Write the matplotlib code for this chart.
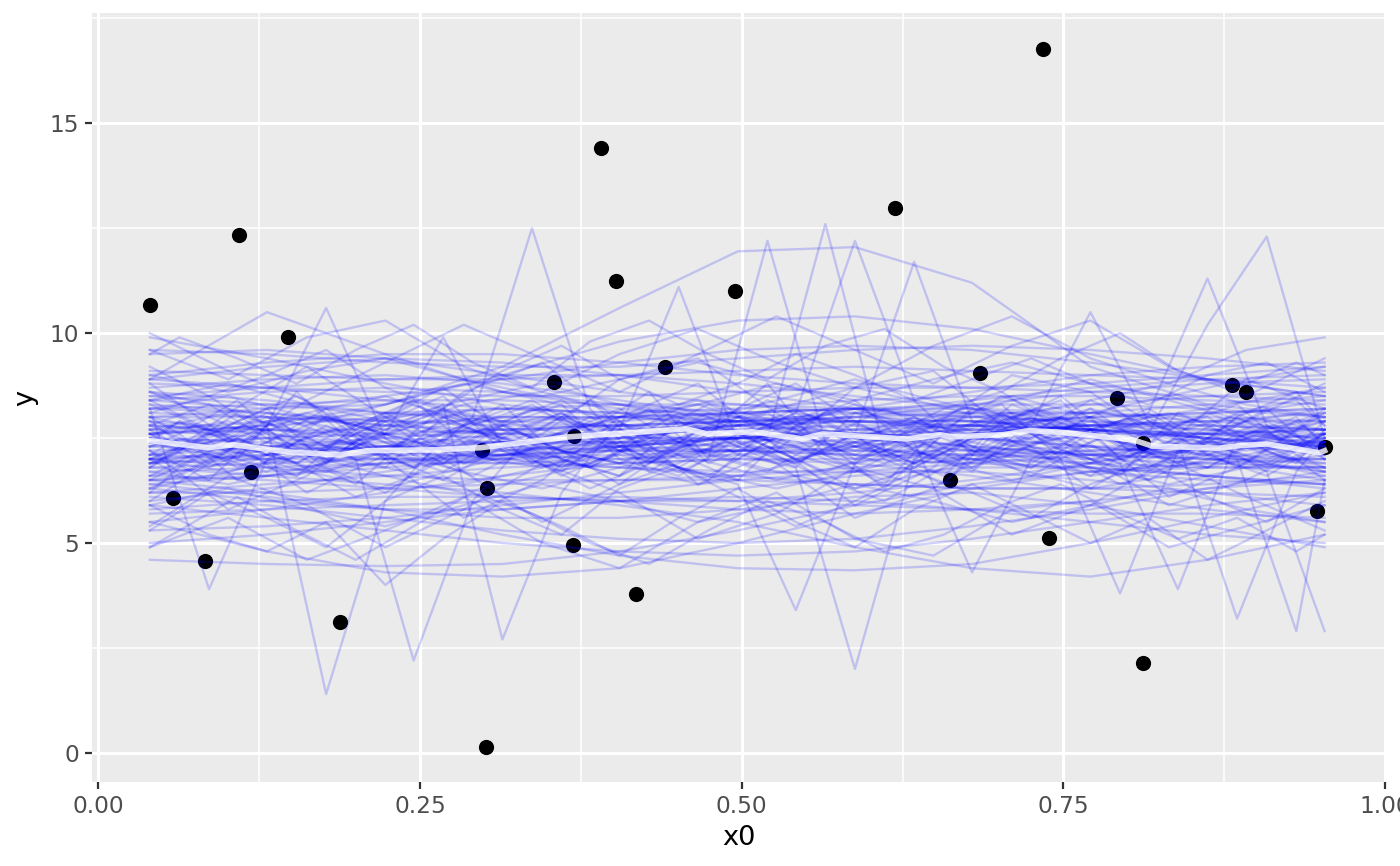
import numpy as np
import matplotlib
matplotlib.use("Agg")
import matplotlib.pyplot as plt
from matplotlib.ticker import MultipleLocator

# observed points
pts_x = [0.040, 0.058, 0.083, 0.109, 0.119, 0.147, 0.188, 0.298, 0.302, 0.301,
         0.354, 0.369, 0.370, 0.391, 0.402, 0.418, 0.440, 0.495, 0.619, 0.662,
         0.685, 0.734, 0.739, 0.792, 0.812, 0.812, 0.881, 0.892, 0.947, 0.953]
pts_y = [10.68, 6.08, 4.58, 12.34, 6.70, 9.91, 3.13, 7.22, 6.32, 0.13,
         8.84, 4.96, 7.56, 14.41, 11.25, 3.79, 9.20, 11.01, 12.98, 6.51,
         9.05, 16.77, 5.13, 8.46, 7.39, 2.13, 8.77, 8.60, 5.77, 7.29]

# posterior mean line
mean_x = [0.040, 0.085, 0.105, 0.147, 0.188, 0.209, 0.260, 0.297, 0.366, 0.457,
          0.473, 0.509, 0.547, 0.563, 0.628, 0.654, 0.664, 0.703, 0.724, 0.747,
          0.804, 0.819, 0.871, 0.887, 0.908, 0.928, 0.949, 0.953]
mean_y = [7.44, 7.27, 7.34, 7.17, 7.10, 7.20, 7.22, 7.27, 7.53, 7.72,
          7.60, 7.65, 7.48, 7.60, 7.48, 7.58, 7.53, 7.58, 7.68, 7.64,
          7.46, 7.31, 7.26, 7.32, 7.36, 7.26, 7.15, 7.20]

# draws: smooth ones on a coarse grid
x_smooth = [0.040, 0.131, 0.223, 0.314, 0.405, 0.497, 0.588, 0.679, 0.771, 0.862, 0.953]
smooth_draws = [
    [7.4, 7.5, 7.6, 7.7, 7.8, 7.9, 7.9, 7.8, 7.7, 7.6, 7.5],
    [8.0, 8.0, 7.9, 7.9, 8.0, 8.1, 8.2, 8.2, 8.1, 8.0, 7.9],
    [6.8, 6.9, 7.0, 7.0, 7.1, 7.2, 7.2, 7.1, 7.0, 6.9, 6.8],
    [8.8, 8.7, 8.6, 8.5, 8.5, 8.6, 8.7, 8.7, 8.6, 8.5, 8.4],
    [6.2, 6.2, 6.3, 6.4, 6.5, 6.5, 6.4, 6.3, 6.3, 6.2, 6.1],
    [7.8, 7.6, 7.3, 7.1, 7.0, 7.1, 7.3, 7.6, 7.8, 7.9, 7.9],
    [7.1, 7.3, 7.5, 7.7, 7.8, 7.7, 7.5, 7.3, 7.1, 7.0, 6.9],
    [9.1, 9.0, 8.9, 8.9, 9.0, 9.1, 9.2, 9.1, 9.0, 8.9, 8.7],
    [5.7, 5.8, 5.9, 6.0, 6.1, 6.0, 5.9, 5.8, 5.7, 5.7, 5.6],
    [7.6, 7.8, 8.0, 8.2, 8.3, 8.3, 8.2, 8.0, 7.9, 7.8, 7.7],
    [6.5, 6.6, 6.8, 7.0, 7.3, 7.5, 7.6, 7.5, 7.3, 7.0, 6.7],
    [8.3, 8.1, 7.8, 7.6, 7.5, 7.5, 7.6, 7.8, 8.0, 8.1, 8.2],
    [4.6, 4.5, 4.45, 4.5, 4.8, 5.3, 5.9, 6.4, 6.7, 6.8, 6.8],
    [9.9, 9.4, 8.8, 8.3, 8.0, 7.9, 8.0, 8.3, 8.6, 8.8, 8.9],
    [7.3, 7.2, 7.1, 7.1, 7.2, 7.4, 7.6, 7.7, 7.7, 7.6, 7.4],
    [6.0, 6.3, 6.7, 7.1, 7.5, 7.8, 7.9, 7.8, 7.5, 7.1, 6.7],
    [8.5, 8.7, 8.9, 9.0, 9.0, 8.8, 8.5, 8.2, 7.9, 7.7, 7.6],
    [7.0, 6.8, 6.6, 6.5, 6.5, 6.6, 6.8, 7.0, 7.2, 7.3, 7.3],
    [5.3, 5.4, 5.6, 5.9, 6.2, 6.5, 6.7, 6.7, 6.5, 6.2, 5.9],
    [8.2, 8.3, 8.4, 8.4, 8.3, 8.1, 7.9, 7.7, 7.6, 7.6, 7.7],
    [6.6, 6.5, 6.3, 6.1, 6.0, 6.0, 6.2, 6.5, 6.9, 7.3, 7.6],
    [7.9, 7.7, 7.5, 7.4, 7.4, 7.5, 7.7, 8.0, 8.3, 8.5, 8.6],
    [9.5, 9.6, 9.4, 9.0, 8.6, 8.3, 8.1, 8.0, 8.1, 8.3, 8.5],
    [6.9, 7.0, 7.2, 7.4, 7.5, 7.5, 7.3, 7.0, 6.7, 6.5, 6.4],
    [5.9, 5.6, 5.3, 5.0, 4.8, 4.7, 4.8, 5.1, 5.5, 5.9, 6.2],
    [7.7, 7.9, 8.1, 8.2, 8.1, 7.9, 7.6, 7.3, 7.1, 7.0, 7.0],
    [8.6, 8.4, 8.1, 7.9, 7.8, 7.9, 8.1, 8.4, 8.7, 8.9, 9.0],
    [7.2, 7.3, 7.4, 7.4, 7.3, 7.2, 7.1, 7.1, 7.2, 7.3, 7.4],
    [6.4, 6.6, 6.9, 7.2, 7.4, 7.5, 7.4, 7.2, 6.9, 6.6, 6.4],
    [8.0, 8.2, 8.5, 8.9, 9.3, 9.6, 9.7, 9.6, 9.3, 8.9, 8.5],
    [7.5, 7.4, 7.2, 7.0, 6.8, 6.7, 6.7, 6.9, 7.1, 7.4, 7.6],
    [6.1, 5.9, 5.6, 5.3, 5.1, 5.0, 5.1, 5.4, 5.8, 6.3, 6.7],
    [8.4, 8.6, 8.7, 8.6, 8.3, 7.9, 7.5, 7.2, 7.1, 7.2, 7.4],
    [7.0, 7.1, 7.3, 7.6, 7.9, 8.1, 8.2, 8.1, 7.8, 7.5, 7.2],
    [8.9, 9.2, 9.4, 9.3, 9.0, 8.6, 8.2, 7.9, 7.8, 7.9, 8.1],
    [6.7, 6.8, 6.9, 6.9, 6.8, 6.6, 6.4, 6.3, 6.3, 6.4, 6.6],
    [5.5, 5.8, 6.2, 6.6, 6.9, 7.0, 6.9, 6.6, 6.2, 5.8, 5.5],
    [8.4, 8.2, 8.3, 9.2, 10.6, 11.95, 12.05, 11.2, 9.2, 8.3, 8.0],
    [7.6, 7.8, 8.3, 9.0, 9.8, 10.3, 10.4, 10.1, 9.5, 8.9, 8.5],
    [6.5, 6.2, 5.8, 5.2, 4.7, 4.4, 4.35, 4.5, 5.0, 5.6, 6.2],
    [6.8, 6.6, 6.4, 6.2, 5.9, 5.5, 4.9, 4.4, 4.2, 4.6, 5.2],
    [5.5, 4.8, 4.3, 4.2, 4.4, 5.0, 5.7, 6.3, 6.7, 6.9, 7.0],
    [8.9, 10.5, 9.5, 8.6, 8.2, 8.0, 7.9, 7.9, 8.0, 8.1, 8.2],
    [7.4, 7.3, 7.2, 7.3, 7.5, 7.8, 8.2, 8.6, 9.0, 9.2, 9.3],
    [6.4, 6.1, 5.8, 5.6, 5.6, 5.8, 6.1, 6.2, 5.9, 5.4, 4.9],
    [8.7, 8.9, 9.0, 8.8, 8.4, 8.0, 7.7, 7.6, 7.8, 8.2, 8.7],
    [7.6, 7.7, 7.7, 7.6, 7.6, 7.7, 7.8, 7.8, 7.7, 7.5, 7.3],
    [7.1, 7.0, 7.0, 7.1, 7.3, 7.5, 7.6, 7.5, 7.3, 7.1, 7.0],
    [8.1, 8.0, 7.8, 7.7, 7.7, 7.8, 8.0, 8.1, 8.1, 7.9, 7.7],
    [6.9, 7.1, 7.3, 7.4, 7.4, 7.3, 7.2, 7.2, 7.3, 7.3, 7.2],
    [7.8, 7.7, 7.6, 7.5, 7.6, 7.8, 7.9, 7.9, 7.7, 7.4, 7.1],
    [7.3, 7.5, 7.8, 8.0, 8.0, 7.8, 7.6, 7.5, 7.5, 7.6, 7.7],
    [6.5, 6.7, 6.9, 7.1, 7.2, 7.2, 7.1, 7.0, 6.9, 6.8, 6.8],
    [8.5, 8.3, 8.1, 8.0, 8.0, 8.1, 8.2, 8.3, 8.3, 8.2, 8.0],
    [7.0, 7.2, 7.3, 7.3, 7.2, 7.2, 7.4, 7.6, 7.8, 7.8, 7.7],
    [7.7, 7.5, 7.3, 7.2, 7.3, 7.5, 7.7, 7.8, 7.7, 7.5, 7.3],
    [6.2, 6.4, 6.6, 6.8, 6.9, 7.0, 7.0, 6.9, 6.8, 6.6, 6.4],
    [8.9, 8.7, 8.4, 8.2, 8.1, 8.2, 8.4, 8.5, 8.5, 8.4, 8.3],
    [7.4, 7.2, 7.0, 6.9, 7.0, 7.2, 7.5, 7.7, 7.8, 7.7, 7.5],
    [8.2, 8.1, 7.9, 7.8, 7.8, 7.9, 8.0, 7.9, 7.7, 7.5, 7.4],
    [5.0, 5.2, 5.5, 5.8, 6.0, 6.1, 6.0, 5.8, 5.5, 5.2, 5.0],
    [9.6, 9.5, 9.3, 9.2, 9.2, 9.4, 9.6, 9.7, 9.6, 9.4, 9.1],
    [5.8, 6.0, 6.1, 6.1, 6.0, 5.8, 5.7, 5.8, 6.0, 6.3, 6.5],
    [9.0, 9.3, 9.5, 9.5, 9.3, 9.0, 8.8, 8.7, 8.8, 9.0, 9.2],
    [6.3, 6.0, 5.8, 5.8, 6.0, 6.3, 6.6, 6.8, 6.8, 6.6, 6.3],
]

# medium wiggle draws
x_grid_c = [0.040, 0.101, 0.162, 0.223, 0.284, 0.345, 0.405, 0.466, 0.527, 0.588,
            0.649, 0.710, 0.771, 0.832, 0.892, 0.953]
medium_draws = [
    [7.6, 7.9, 7.4, 7.1, 7.6, 8.0, 7.7, 7.2, 7.5, 8.1, 7.8, 7.3, 7.6, 8.0, 7.5, 7.2],
    [7.0, 6.7, 7.2, 7.6, 7.1, 6.8, 7.3, 7.8, 7.4, 6.9, 7.2, 7.7, 7.3, 6.8, 7.1, 7.5],
    [8.2, 8.5, 8.0, 7.7, 8.3, 8.6, 8.1, 7.8, 8.2, 8.7, 8.3, 7.8, 8.1, 8.5, 8.0, 7.7],
    [6.6, 6.9, 7.3, 6.8, 6.4, 6.8, 7.4, 7.0, 6.5, 6.9, 7.4, 7.1, 6.6, 6.9, 7.3, 6.8],
    [7.9, 7.5, 7.1, 7.6, 8.1, 7.7, 7.2, 7.6, 8.2, 7.8, 7.3, 7.7, 8.2, 7.7, 7.2, 7.6],
    [7.3, 7.7, 8.1, 7.6, 7.1, 7.5, 8.0, 8.3, 7.7, 7.2, 7.6, 8.1, 7.6, 7.1, 7.5, 7.9],
    [6.9, 7.2, 6.7, 6.3, 6.8, 7.3, 6.9, 6.4, 6.8, 7.4, 7.0, 6.5, 6.9, 7.3, 6.8, 6.5],
    [8.6, 8.2, 7.8, 8.3, 8.8, 8.4, 7.9, 8.3, 8.8, 8.3, 7.9, 8.4, 8.9, 8.4, 7.9, 8.2],
    [7.4, 7.0, 7.5, 8.0, 7.5, 7.0, 7.4, 7.9, 7.4, 7.0, 7.5, 8.0, 7.6, 7.1, 7.6, 8.0],
    [6.3, 6.7, 7.1, 6.6, 6.2, 6.6, 7.1, 6.7, 6.3, 6.7, 7.2, 6.8, 6.3, 6.6, 7.0, 6.6],
    [8.0, 7.6, 8.1, 8.5, 7.9, 7.5, 8.0, 8.4, 7.9, 7.5, 8.0, 8.5, 8.0, 7.6, 8.1, 8.4],
    [7.7, 8.1, 7.6, 7.2, 7.8, 8.2, 7.7, 7.3, 7.8, 8.2, 7.6, 7.2, 7.7, 8.1, 7.6, 7.3],
    [7.1, 7.5, 7.9, 7.4, 6.9, 7.3, 7.8, 7.4, 6.9, 7.3, 7.8, 7.4, 7.0, 7.4, 7.9, 7.4],
    [5.9, 6.3, 5.8, 5.4, 5.9, 6.4, 6.0, 5.5, 5.9, 6.4, 6.0, 5.5, 5.9, 6.3, 5.8, 5.5],
    [9.0, 8.6, 9.1, 9.4, 8.9, 8.5, 8.9, 9.3, 8.8, 8.4, 8.9, 9.3, 8.8, 8.5, 8.9, 9.2],
    [7.5, 7.2, 6.8, 7.3, 7.7, 7.3, 6.9, 7.4, 7.8, 7.3, 6.9, 7.4, 7.9, 7.4, 7.0, 7.4],
    [8.4, 8.8, 8.3, 7.9, 8.4, 8.8, 8.3, 7.9, 8.4, 8.9, 8.4, 8.0, 8.4, 8.8, 8.3, 8.0],
    [6.7, 6.4, 6.8, 7.2, 6.7, 6.3, 6.8, 7.2, 6.7, 6.3, 6.7, 7.2, 6.8, 6.4, 6.8, 7.1],
    [6.0, 7.2, 8.4, 7.0, 5.6, 6.5, 8.0, 8.8, 7.3, 5.9, 6.8, 8.3, 7.6, 6.1, 6.9, 8.1],
    [8.8, 7.5, 6.2, 7.1, 8.6, 9.3, 7.9, 6.4, 7.2, 8.7, 9.1, 7.6, 6.3, 7.4, 8.9, 8.2],
    [5.4, 6.6, 5.9, 4.9, 5.8, 6.9, 6.2, 5.1, 5.7, 6.8, 6.3, 5.2, 5.9, 7.0, 6.1, 5.3],
    [9.6, 8.9, 9.9, 10.3, 9.2, 8.6, 9.5, 10.1, 9.3, 8.7, 9.7, 10.4, 9.4, 8.8, 9.6, 9.9],
    [7.2, 5.8, 6.6, 7.9, 6.7, 5.5, 6.4, 7.7, 6.9, 5.6, 6.3, 7.6, 7.0, 5.9, 6.5, 7.4],
    [6.8, 8.1, 9.2, 8.0, 6.9, 7.6, 8.9, 9.4, 8.1, 7.0, 7.8, 9.0, 8.6, 7.3, 7.9, 8.8],
    [4.9, 5.6, 4.6, 5.3, 6.1, 5.0, 4.4, 5.5, 6.2, 5.1, 4.7, 5.8, 6.0, 4.9, 5.4, 5.9],
    [10.0, 9.1, 8.4, 9.3, 10.2, 9.4, 8.6, 9.5, 10.4, 9.6, 8.8, 9.7, 10.3, 9.2, 8.5, 9.4],
]

# wiggly draws, grid A
x_grid_a = [0.040, 0.086, 0.131, 0.177, 0.223, 0.268, 0.314, 0.360, 0.405, 0.451, 0.497,
            0.542, 0.588, 0.634, 0.679, 0.725, 0.771, 0.816, 0.862, 0.908, 0.953]
wiggly_a = [
    [7.2, 6.5, 7.8, 1.4, 6.0, 7.5, 8.3, 7.0, 6.6, 7.9, 7.4, 6.8, 8.1, 7.7, 6.9, 7.5, 8.2, 7.3, 6.8, 7.6, 7.1],
    [6.8, 7.6, 8.2, 6.9, 7.7, 8.3, 2.7, 6.2, 7.9, 7.1, 6.5, 7.8, 8.4, 7.2, 6.7, 7.9, 8.0, 6.8, 7.4, 8.2, 7.0],
    [6.6, 7.3, 7.9, 7.0, 6.8, 8.0, 7.4, 6.6, 7.2, 7.9, 7.1, 6.8, 2.0, 7.0, 8.2, 7.6, 6.9, 7.7, 8.0, 7.2, 6.7],
    [8.4, 7.7, 7.1, 8.0, 7.6, 6.9, 7.8, 8.3, 7.0, 6.6, 7.5, 8.1, 12.2, 8.4, 7.1, 6.8, 7.6, 8.2, 7.4, 6.9, 7.6],
    [7.0, 7.5, 8.0, 7.3, 7.9, 8.5, 7.2, 6.7, 7.7, 8.0, 7.3, 6.9, 7.6, 11.7, 7.9, 7.2, 6.6, 7.5, 8.1, 7.6, 7.2],
    [7.7, 6.9, 7.4, 8.2, 7.1, 6.5, 7.3, 8.0, 7.6, 6.8, 6.4, 3.4, 6.9, 7.8, 7.2, 6.6, 7.4, 8.0, 7.1, 6.6, 7.4],
    [8.1, 8.5, 7.6, 7.0, 7.8, 8.2, 7.5, 6.8, 7.3, 8.1, 7.6, 7.0, 7.4, 8.0, 7.3, 6.9, 7.7, 8.1, 11.3, 7.8, 7.0],
    [7.6, 7.1, 6.7, 7.5, 8.1, 7.4, 6.9, 7.6, 8.2, 7.4, 7.0, 7.8, 8.3, 7.5, 6.8, 7.3, 8.0, 7.6, 10.2, 12.3, 7.5],
    [6.9, 7.4, 8.1, 7.6, 7.0, 7.3, 7.9, 8.4, 7.6, 7.0, 7.5, 8.1, 7.3, 6.9, 7.6, 8.0, 7.2, 6.8, 7.5, 6.7, 2.9],
    [8.2, 3.9, 7.0, 7.8, 7.2, 6.7, 7.5, 8.1, 7.3, 6.8, 7.6, 8.2, 7.5, 6.9, 7.4, 8.0, 7.7, 7.1, 6.8, 7.5, 7.9],
    [6.5, 7.2, 7.8, 10.6, 7.5, 6.9, 7.6, 8.1, 7.2, 6.7, 7.3, 7.9, 7.4, 6.8, 7.5, 8.2, 7.7, 7.0, 7.4, 7.9, 7.2],
    [7.5, 6.8, 7.4, 8.0, 7.6, 9.9, 7.3, 6.8, 7.5, 8.2, 7.8, 7.1, 6.7, 7.4, 4.3, 7.0, 7.7, 8.1, 7.3, 6.8, 7.6],
    [7.0, 7.6, 7.1, 6.7, 7.2, 7.9, 7.5, 7.0, 7.7, 11.1, 7.4, 6.9, 7.6, 8.0, 7.2, 6.8, 7.4, 7.9, 7.6, 7.1, 6.9],
    [8.6, 8.0, 7.4, 7.0, 7.6, 8.2, 7.8, 7.2, 6.9, 7.5, 8.0, 7.6, 7.1, 7.7, 8.3, 7.8, 10.5, 7.9, 7.3, 7.0, 7.5],
    [5.3, 6.2, 5.6, 4.9, 6.0, 6.6, 5.8, 5.2, 6.3, 6.8, 6.1, 5.4, 6.0, 6.7, 6.2, 5.6, 6.4, 6.9, 6.1, 5.5, 6.3],
    [9.2, 8.5, 9.0, 9.6, 8.7, 8.2, 9.1, 9.7, 8.9, 8.3, 8.8, 9.5, 9.0, 8.4, 8.9, 9.4, 8.8, 8.3, 9.0, 9.3, 8.6],
    [5.9, 5.2, 4.8, 5.5, 4.0, 5.1, 6.0, 5.4, 4.7, 5.6, 6.3, 5.5, 4.9, 5.8, 6.4, 5.7, 5.0, 5.6, 4.6, 5.3, 6.0],
    [7.8, 8.3, 7.5, 6.9, 8.0, 8.7, 7.7, 7.0, 6.6, 7.4, 8.2, 8.8, 7.9, 7.2, 6.8, 7.6, 8.4, 7.8, 7.1, 7.7, 8.1],
    [6.3, 7.0, 7.7, 6.8, 6.2, 7.1, 7.8, 7.2, 6.4, 6.9, 7.6, 7.0, 6.3, 6.8, 7.5, 7.9, 7.0, 6.5, 7.2, 7.8, 7.3],
]

# wiggly draws, grid B (offset knots)
x_grid_b = [0.040, 0.063, 0.108, 0.154, 0.200, 0.245, 0.291, 0.337, 0.382, 0.428, 0.474,
            0.520, 0.565, 0.611, 0.657, 0.702, 0.748, 0.794, 0.839, 0.885, 0.931, 0.953]
wiggly_b = [
    [8.0, 7.6, 6.5, 7.4, 7.0, 2.2, 6.0, 7.6, 8.4, 7.1, 6.5, 7.7, 8.2, 7.0, 6.4, 7.8, 8.5, 7.4, 6.9, 8.0, 7.3, 7.9],
    [7.5, 7.9, 7.0, 8.6, 7.3, 6.8, 8.0, 12.5, 8.2, 6.7, 7.6, 8.8, 7.1, 6.4, 7.9, 8.3, 7.0, 6.6, 8.1, 7.5, 6.9, 7.7],
    [7.9, 7.4, 7.0, 6.6, 7.8, 8.4, 7.2, 6.9, 7.7, 8.6, 7.0, 12.2, 7.4, 6.3, 7.6, 8.1, 7.3, 6.9, 7.8, 8.3, 7.1, 6.8],
    [7.3, 7.6, 8.4, 7.1, 6.4, 7.6, 8.0, 6.9, 7.4, 8.2, 6.9, 7.5, 12.6, 7.2, 6.6, 7.9, 8.4, 7.0, 7.5, 6.8, 7.7, 8.2],
    [7.4, 7.9, 7.5, 6.9, 7.6, 8.3, 7.7, 7.1, 6.8, 7.5, 8.0, 7.3, 6.7, 7.2, 7.9, 7.4, 7.0, 3.8, 7.2, 7.8, 7.3, 7.6],
    [6.9, 7.2, 8.1, 7.6, 7.0, 7.3, 7.9, 8.4, 7.6, 7.0, 7.5, 8.1, 7.3, 6.9, 7.6, 8.0, 7.2, 6.8, 7.4, 3.2, 6.7, 7.5],
    [7.8, 7.5, 6.8, 7.4, 7.9, 7.1, 6.6, 7.3, 8.0, 7.7, 7.1, 6.7, 7.5, 8.2, 7.6, 7.0, 7.7, 8.3, 7.5, 7.0, 2.9, 6.5],
    [7.1, 7.5, 7.2, 6.6, 7.3, 7.8, 8.2, 7.5, 6.9, 7.4, 8.1, 7.6, 7.0, 6.5, 7.3, 7.9, 7.4, 6.9, 3.9, 7.5, 8.0, 7.3],
    [9.5, 9.9, 9.4, 8.8, 9.6, 10.2, 9.3, 8.7, 9.8, 10.3, 9.5, 8.9, 9.7, 10.1, 9.2, 8.6, 9.4, 10.0, 9.1, 8.7, 9.3, 9.0],
    [4.9, 5.3, 6.1, 5.3, 4.6, 5.4, 6.2, 5.7, 5.0, 4.5, 5.3, 6.0, 5.5, 4.8, 5.2, 5.9, 6.4, 5.7, 5.1, 5.6, 4.8, 5.2],
    [7.0, 6.6, 7.3, 8.0, 7.4, 6.8, 7.5, 8.2, 7.7, 7.0, 6.6, 7.4, 8.1, 7.6, 6.9, 7.3, 8.0, 7.5, 6.8, 7.2, 7.9, 7.4],
    [8.3, 8.0, 7.3, 6.9, 7.7, 8.4, 7.9, 7.2, 6.8, 7.6, 8.3, 7.8, 7.1, 7.5, 8.2, 8.6, 7.7, 7.0, 7.4, 8.1, 8.4, 7.8],
    [6.2, 6.8, 7.5, 6.9, 6.1, 6.6, 7.4, 7.0, 6.3, 6.9, 7.7, 7.2, 6.5, 6.0, 6.8, 7.5, 7.1, 6.4, 6.9, 7.6, 7.0, 6.5],
    [7.6, 7.2, 7.9, 8.5, 7.7, 7.1, 7.8, 8.3, 7.5, 6.9, 7.6, 8.4, 7.9, 7.2, 7.7, 8.5, 8.0, 7.3, 7.0, 8.0, 8.6, 7.8],
]

bg = "#EBEBEB"
fig = plt.figure(figsize=(7, 4.33), dpi=200)
ax = fig.add_axes([0.0654, 0.0967, 0.9244, 0.8879])
ax.set_facecolor(bg)

ax.scatter(pts_x, pts_y, s=30, color="black", linewidths=0, zorder=2)

draw_kw = dict(color="blue", alpha=0.18, lw=0.85, zorder=3)
for ys in smooth_draws:
    ax.plot(x_smooth, ys, **draw_kw)
for ys in medium_draws:
    ax.plot(x_grid_c, ys, **draw_kw)
for ys in wiggly_a:
    ax.plot(x_grid_a, ys, **draw_kw)
for ys in wiggly_b:
    ax.plot(x_grid_b, ys, **draw_kw)

ax.plot(mean_x, mean_y, color="white", alpha=0.8, lw=2.0, zorder=4)

ax.set_xlim(-0.0053, 1.0005)
ax.set_ylim(-0.70, 17.62)

ax.xaxis.set_major_locator(MultipleLocator(0.25))
ax.xaxis.set_minor_locator(MultipleLocator(0.125))
ax.yaxis.set_major_locator(MultipleLocator(5))
ax.yaxis.set_minor_locator(MultipleLocator(2.5))
ax.set_xticks([0, 0.25, 0.5, 0.75, 1.0])
ax.set_xticklabels(["0.00", "0.25", "0.50", "0.75", "1.00"])

ax.grid(which="major", color="white", lw=1.08, zorder=0)
ax.grid(which="minor", color="white", lw=0.54, zorder=0)
ax.set_axisbelow(True)
for s in ax.spines.values():
    s.set_visible(False)

ax.tick_params(which="major", length=2.4, width=0.8, color="#333333",
               labelsize=8.4, labelcolor="#4D4D4D", pad=2.2)
ax.tick_params(which="minor", length=0)

ax.set_xlabel("x0", fontsize=9.8, labelpad=2.5)
ax.set_ylabel("y", fontsize=9.8, labelpad=4)

fig.savefig("out.png", dpi=200, facecolor="white")
